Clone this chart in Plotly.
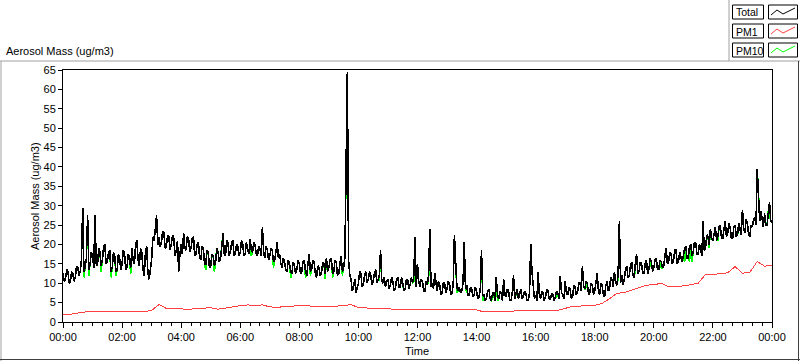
import pandas as pd
import plotly.graph_objects as go

# ---------------- data ----------------
# Total: one value every 2.5 minutes, 00:00 .. 24:00 (24 values per hour)
total = [
    12.5, 10.5, 11, 13.5, 13, 10, 10.5, 13, 12.5, 10.5, 11.5, 14.5, 14, 12, 13, 16, 29.5, 13, 14, 16.5, 27.5, 13.5, 15, 18,
    17, 14, 27.5, 15, 14.5, 19, 18, 14.5, 16, 19.5, 20, 15, 15.5, 18, 18.5, 13, 14, 18, 17, 13, 13.5, 17.5, 16.5, 13.5,
    15, 18.5, 17.5, 13.5, 14, 17.5, 16.5, 14, 19, 16, 15, 20, 21, 16, 14.5, 19, 18, 13.5, 12, 18, 19.5, 12.5, 11, 14,
    16, 22, 21, 24, 27.5, 20, 22, 19.5, 20.5, 23.5, 23, 19, 19.5, 22.5, 22, 18.5, 20, 22.5, 21.5, 17, 18.5, 21, 13, 17.5,
    20, 17.5, 23, 19, 18.5, 22, 21.5, 18, 19, 21.5, 22, 17, 17.5, 20, 20.5, 16.5, 16, 19.5, 19, 15, 15, 18.5, 18, 14,
    14.5, 17.5, 17, 14.5, 15.5, 19, 18, 15.5, 16.5, 19.5, 23, 17.5, 17, 21, 20.5, 17, 18, 20.5, 21, 17, 17.5, 20, 19.5, 17,
    18, 21, 20, 17, 17.5, 20.5, 19, 17.5, 21.5, 18.5, 18, 20.5, 20, 17.5, 17, 19.5, 19, 17, 24.5, 18, 16.5, 19.5, 18.5, 16,
    17, 19, 18.5, 15.5, 16, 18.5, 20.5, 16.5, 17.5, 15, 14, 16.5, 15.5, 13.5, 13, 16, 15, 13, 12.5, 15.5, 14.5, 12.5, 13.5, 16,
    15, 12.5, 13, 15.5, 16, 13, 12, 15, 17.5, 13, 13.5, 16, 15.5, 12.5, 11.5, 14.5, 14, 12, 12.5, 15.5, 15, 12.5, 16.5, 13,
    14, 16, 16.5, 12.5, 13, 16, 15.5, 12, 12.5, 15, 17, 13, 14, 16.5, 39, 64.5, 16, 12, 11, 8, 9, 11, 7.5, 9,
    10, 13, 12.5, 9, 9.5, 12, 13, 10, 11, 13, 12, 9.5, 10.5, 12.5, 13.5, 10, 11, 12, 18.5, 10.5, 10, 11.5, 9, 10.5,
    11, 8.5, 9.5, 11.5, 10.5, 8, 8.5, 11, 11.5, 9, 9, 11.5, 10, 8, 8.5, 11, 11, 8.5, 9.5, 11.5, 10, 12, 22, 9,
    15, 10.5, 9, 11, 10.5, 8, 8, 10.5, 9.5, 12, 24, 9, 10, 8.5, 12.5, 9.5, 8, 10.5, 9.5, 7, 7.5, 10, 10, 7.5,
    8.5, 10.5, 10, 7, 7.5, 9.5, 22.5, 15.5, 9, 8, 9, 7.5, 8, 10, 20.5, 8.5, 9.5, 7, 7, 9, 8.5, 6.5, 7, 9,
    8, 6, 6.5, 8.5, 18.5, 7, 7, 5.5, 6, 8, 8.5, 6, 5.5, 7.5, 7.5, 5.5, 11.5, 7, 6, 8, 7.5, 5.5, 11, 7,
    6.5, 8.5, 8, 5.5, 5.5, 7.5, 12, 6, 7, 8.5, 6, 7.5, 8.5, 6, 6.5, 8, 7.5, 5.5, 5.5, 7.5, 20, 13, 8, 6,
    7, 5.5, 13, 7, 6, 8, 7.5, 5.5, 6.5, 8.5, 8, 6, 5.7, 7.5, 7, 5.5, 6.5, 8, 7.5, 6, 11.9, 7.5, 7, 6,
    10.6, 7.5, 7, 9, 8.5, 6, 6.5, 9.5, 9, 7, 7.5, 10, 10, 8, 14.5, 9, 8.5, 10.5, 10, 7, 7.5, 10, 9.5, 7,
    8, 10.5, 12.5, 8, 7, 10, 9.5, 7, 6.5, 9.5, 10.5, 8, 8.5, 11.5, 11, 9, 13, 10, 9.5, 12.5, 26, 10, 12, 9.5,
    11, 13.5, 14.5, 11.5, 12, 14.5, 15.5, 12, 11.5, 15, 17.5, 12.5, 13, 15.5, 15, 12.5, 12.5, 15, 16, 12.5, 13.5, 16.5, 15.5, 13,
    14, 16, 16.5, 13.5, 13.5, 16, 15.5, 14, 14.5, 17, 19, 15, 15.5, 18, 17.5, 15, 16, 18.5, 18.5, 15, 15.5, 18, 17, 15.5,
    17, 19, 19.5, 16.5, 16.5, 19.5, 20, 17, 18, 20.5, 20.5, 17.5, 17.5, 20, 19, 17, 26, 18.5, 19, 22.5, 22, 20, 24, 21.5,
    21, 23.5, 24.5, 21, 22, 24.5, 25, 21.5, 21.5, 24, 26, 22, 23, 25.5, 24.5, 21.5, 21.5, 24.5, 25, 22, 22.5, 25.5, 24, 22.5,
    29, 24, 23, 26.5, 25.5, 22.5, 22, 25, 24.5, 26.5, 27, 25, 39.5, 33.5, 26, 28.5, 26, 24.5, 28, 25, 25, 28.5, 31, 26,
    25.5,
]
# PM10: one value every 2.5 minutes (mostly hidden under Total)
pm10 = [
    12.5, 10.5, 11, 13.5, 13, 10, 10.5, 13, 12.5, 10.5, 11.5, 14.5, 14, 12, 13, 16, 29.5, 11.5, 14, 16.5, 27.5, 12, 15, 18,
    17, 14, 27.5, 15, 14.5, 19, 18, 13, 16, 19.5, 20, 15, 15.5, 18, 18.5, 11.5, 14, 18, 17, 12, 13.5, 17.5, 16.5, 13.5,
    15, 18.5, 17.5, 13.5, 14, 17.5, 16.5, 12.5, 19, 16, 15, 20, 21, 16, 14.5, 19, 18, 13.5, 12, 18, 19.5, 12.5, 11, 14,
    16, 22, 21, 24, 27.5, 20, 22, 19.5, 20.5, 23.5, 23, 19, 19.5, 22.5, 22, 18.5, 20, 22.5, 21.5, 17, 18.5, 21, 13, 17.5,
    20, 17.5, 23, 19, 18.5, 22, 21.5, 18, 19, 21.5, 22, 17, 17.5, 20, 20.5, 16.5, 16, 19.5, 19, 15, 13.5, 18.5, 18, 14,
    14.5, 17.5, 17, 13, 15.5, 19, 18, 15.5, 16.5, 19.5, 23, 17.5, 17, 21, 20.5, 17, 18, 20.5, 21, 17, 17.5, 20, 19.5, 17,
    18, 21, 20, 17, 17.5, 20.5, 19, 17.5, 21.5, 17, 18, 20.5, 20, 17.5, 17, 19.5, 19, 17, 24.5, 18, 16.5, 19.5, 18.5, 16,
    17, 19, 18.5, 14, 16, 18.5, 20.5, 16.5, 17.5, 15, 14, 16.5, 15.5, 13.5, 13, 16, 15, 11.5, 12.5, 15.5, 14.5, 12.5, 13.5, 16,
    15, 12.5, 13, 15.5, 16, 11.5, 12, 15, 17.5, 12, 13.5, 16, 15.5, 12.5, 11.5, 14.5, 14, 12, 12.5, 15.5, 15, 11, 16.5, 13,
    14, 16, 16.5, 11.5, 13, 16, 15.5, 12, 12.5, 15, 17, 12, 14, 16.5, 39, 64.5, 16, 12, 11, 8, 9, 11, 7.5, 9,
    10, 13, 12.5, 9, 9.5, 12, 13, 10, 11, 13, 12, 9.5, 10.5, 12.5, 13.5, 10, 11, 10.5, 18.5, 10.5, 10, 11.5, 9, 10.5,
    11, 8.5, 9.5, 11.5, 10.5, 8, 8.5, 11, 11.5, 9, 9, 11.5, 10, 8, 8.5, 11, 11, 8.5, 9.5, 11.5, 10, 10.5, 22, 9,
    15, 10.5, 9, 11, 10.5, 8, 8, 10.5, 9.5, 10.5, 24, 9, 10, 8.5, 12.5, 9.5, 8, 10.5, 9.5, 7, 7.5, 10, 10, 7.5,
    8.5, 10.5, 10, 7, 7.5, 9.5, 22.5, 15.5, 7.5, 8, 9, 7.5, 8, 10, 20.5, 8.5, 8, 7, 7, 9, 8.5, 6.5, 7, 9,
    8, 6, 6.5, 8.5, 18.5, 5.5, 7, 5.5, 6, 8, 8.5, 6, 5.5, 6, 7.5, 5.5, 11.5, 5.5, 6, 8, 7.5, 5.5, 11, 7,
    6.5, 8.5, 8, 5.5, 5.5, 7.5, 12, 6, 7, 7, 6, 7.5, 8.5, 6, 6.5, 8, 7.5, 5.5, 5.5, 7.5, 20, 13, 8, 6,
    7, 5.5, 13, 7, 6, 8, 7.5, 5.5, 6.5, 8.5, 8, 6, 5.7, 7.5, 7, 5.5, 6.5, 6.5, 7.5, 6, 11.9, 7.5, 7, 6,
    10.6, 7.5, 7, 9, 8.5, 6, 6.5, 9.5, 9, 7, 7.5, 10, 10, 8, 14.5, 9, 8.5, 9, 10, 7, 7.5, 10, 9.5, 7,
    8, 10.5, 12.5, 8, 7, 10, 9.5, 7, 6.5, 9.5, 10.5, 8, 8.5, 11.5, 11, 9, 13, 10, 9.5, 11, 26, 10, 12, 9.5,
    11, 13.5, 14.5, 11.5, 12, 14.5, 15.5, 12, 11.5, 13.5, 17.5, 12.5, 13, 15.5, 15, 12.5, 12.5, 15, 16, 12.5, 13.5, 14.5, 15.5, 13,
    14, 16, 16.5, 13.5, 13.5, 16, 14, 14, 14.5, 17, 19, 15, 15.5, 18, 17.5, 15, 16, 18.5, 18.5, 15, 15.5, 18, 17, 15.5,
    17, 15.5, 19.5, 16.5, 16.5, 15.5, 20, 15.5, 18, 20.5, 20.5, 17.5, 17.5, 20, 19, 17, 26, 18.5, 19, 22.5, 22, 19, 24, 21.5,
    21, 23.5, 24.5, 21, 21, 24.5, 25, 21.5, 21.5, 24, 26, 22, 23, 25.5, 24.5, 21.5, 21.5, 24.5, 25, 22, 22.5, 24, 24, 22.5,
    29, 24, 23, 26.5, 25.5, 22.5, 22, 25, 24.5, 26.5, 27, 25, 39.5, 33.5, 26, 28.5, 26, 24.5, 28, 25, 25, 28.5, 27, 26,
    25.5,
]
# PM1: one value every 15 minutes, 00:00 .. 24:00
pm1 = [
    2.0, 2.0, 2.3, 2.6,
    2.7, 2.7, 2.7, 2.7,
    2.7, 2.7, 2.6, 2.7,
    3.0, 4.5, 3.5, 3.4,
    3.3, 3.3, 3.4, 3.5,
    3.7, 3.3, 3.6, 4.0,
    4.2, 4.4, 4.3, 4.4,
    3.9, 3.8, 4.0, 4.1,
    4.2, 4.2, 4.1, 4.0,
    4.0, 4.1, 4.2, 4.5,
    3.7, 3.6, 3.5, 3.4,
    3.4, 3.3, 3.3, 3.3,
    3.3, 3.4, 3.3, 3.3,
    3.3, 3.2, 3.2, 3.2,
    3.1, 2.6, 2.6, 2.8,
    2.8, 2.8, 2.9, 2.9,
    2.9, 2.9, 3.0, 3.0,
    3.5, 4.1, 4.1, 4.3,
    4.3, 4.8, 6.0, 7.4,
    7.6, 8.3, 8.9, 9.5,
    9.6, 10.0, 9.1, 9.2,
    9.3, 9.6, 10.0, 12.3,
    12.3, 12.4, 12.7, 14.3,
    12.6, 12.8, 15.6, 14.4,
    14.7,
]
y_ticks = list(range(0, 70, 5))
legend_names = ["Total", "PM1", "PM10"]
start = "2000-01-01 00:00"
end = "2000-01-02 00:00"

t_total = pd.date_range(start, periods=len(total), freq="150s")
t_pm10 = pd.date_range(start, periods=len(pm10), freq="150s")
t_pm1 = pd.date_range(start, periods=len(pm1), freq="15min")

FONT = "Liberation Sans"
C_TOTAL, C_PM1, C_PM10 = "#000000", "#ff4040", "#00ff00"

fig = go.Figure()
fig.add_trace(go.Scatter(x=t_pm10, y=pm10, mode="lines", name="PM10",
                         line=dict(color=C_PM10, width=1.6), showlegend=False))
fig.add_trace(go.Scatter(x=t_total, y=total, mode="lines", name="Total",
                         line=dict(color=C_TOTAL, width=1.6), showlegend=False))
fig.add_trace(go.Scatter(x=t_pm1, y=pm1, mode="lines", name="PM1",
                         line=dict(color=C_PM1, width=1), showlegend=False))

L, R, T, B = 63, 772, 70, 322
W, H = 800, 361


def px(x):
    return (x - L) / (R - L)


def py(y):
    return (B - y) / (B - T)


shapes = []
# outer frame
shapes.append(dict(type="line", xref="paper", yref="paper", x0=px(0), x1=px(800), y0=py(61), y1=py(61),
                   line=dict(color="#a0a0a0", width=1)))
shapes.append(dict(type="line", xref="paper", yref="paper", x0=px(1), x1=px(1), y0=py(61), y1=py(361),
                   line=dict(color="#a0a0a0", width=1)))
shapes.append(dict(type="line", xref="paper", yref="paper", x0=px(0), x1=px(800), y0=py(359.5), y1=py(359.5),
                   line=dict(color="#404040", width=1)))
shapes.append(dict(type="line", xref="paper", yref="paper", x0=px(798.5), x1=px(798.5), y0=py(61), y1=py(361),
                   line=dict(color="#404040", width=1)))
shapes.append(dict(type="line", xref="paper", yref="paper", x0=px(729), x1=px(729), y0=py(0), y1=py(61),
                   line=dict(color="#a0a0a0", width=1)))

annotations = []
legend_cols = [C_TOTAL, C_PM1, C_PM10]
legend_tops = [5, 24, 43]
for name, col, ytop in zip(legend_names, legend_cols, legend_tops):
    shapes.append(dict(type="rect", xref="paper", yref="paper", x0=px(732.5), x1=px(763.5),
                       y0=py(ytop), y1=py(ytop + 14), line=dict(color="black", width=1)))
    shapes.append(dict(type="rect", xref="paper", yref="paper", x0=px(768.5), x1=px(797.5),
                       y0=py(ytop), y1=py(ytop + 14), line=dict(color="black", width=1)))
    pts = [(771, 10), (777, 5), (783, 9), (789, 6), (795, 3)]
    path = "M " + " L ".join(f"{px(a):.5f},{py(ytop + b):.5f}" for a, b in pts)
    shapes.append(dict(type="path", xref="paper", yref="paper", path=path,
                       line=dict(color=col, width=1)))
    annotations.append(dict(text=name, xref="paper", yref="paper", x=px(733.5), y=py(ytop + 7.5),
                            xanchor="left", yanchor="middle", showarrow=False,
                            font=dict(family=FONT, size=10.5, color="black")))

annotations.append(dict(text="Aerosol Mass (ug/m3)", xref="paper", yref="paper", x=px(4), y=py(51),
                        xanchor="left", yanchor="middle", showarrow=False,
                        font=dict(family=FONT, size=11, color="black")))
annotations.append(dict(text="Aerosol Mass (ug/m3)", xref="paper", yref="paper", x=px(35), y=py(196),
                        xanchor="center", yanchor="middle", showarrow=False, textangle=-90,
                        font=dict(family=FONT, size=11, color="black")))
annotations.append(dict(text="Time", xref="paper", yref="paper", x=px(417), y=py(351),
                        xanchor="center", yanchor="middle", showarrow=False,
                        font=dict(family=FONT, size=11, color="black")))

fig.update_layout(
    width=W, height=H,
    margin=dict(l=L, r=W - R, t=T, b=H - B),
    paper_bgcolor="white", plot_bgcolor="white",
    font=dict(family=FONT, size=11, color="black"),
    shapes=shapes, annotations=annotations,
    showlegend=False,
    xaxis=dict(type="date", range=[start, end], dtick=2 * 3600 * 1000, tick0=start,
               tickformat="%H:%M", showgrid=False, zeroline=False,
               showline=True, linecolor="black", linewidth=1, mirror=True,
               ticks="outside", ticklen=5, tickcolor="black",
               minor=dict(dtick=20 * 60 * 1000, ticks="outside", ticklen=3, tickcolor="black", showgrid=False),
               tickfont=dict(family=FONT, size=11)),
    yaxis=dict(range=[0, 65], tickvals=y_ticks, showgrid=False, zeroline=False,
               showline=True, linecolor="black", linewidth=1, mirror=True,
               ticks="outside", ticklen=4, tickcolor="black",
               tickfont=dict(family=FONT, size=11)),
)

# crisp (non-antialiased) lines like the original instrument display
post = (
    "document.body.style.margin='0';document.body.style.overflow='hidden';"
    "document.querySelectorAll('.scatterlayer path.js-line').forEach(function(p){p.style.shapeRendering='crispEdges';});"
)
fig.write_html("out.html", config={"displayModeBar": False}, post_script=post)
